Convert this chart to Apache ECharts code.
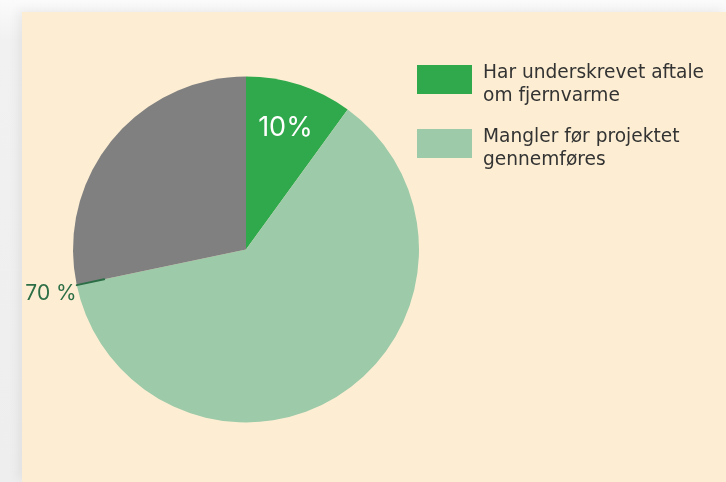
<!DOCTYPE html>
<html>
<head>
<meta charset="utf-8">
<script src="https://cdn.jsdelivr.net/npm/echarts@6/dist/echarts.min.js"></script>
<style>
  html, body { margin: 0; padding: 0; width: 726px; height: 482px; overflow: hidden;
    background: linear-gradient(180deg, #fbfbfb 0px, #f1f1f1 40px, #eeeeee 100%); }
  #panel { position: absolute; left: 22px; top: 12px; width: 704px; height: 470px;
    background: #fdeed3; box-shadow: -4px -2px 10px rgba(0,0,0,0.06); }
  #chart { position: absolute; left: 0; top: 0; width: 726px; height: 482px; }
</style>
</head>
<body>
<div id="panel"></div>
<div id="chart"></div>
<script>
// ---- data ----
const categories = ['Har underskrevet aftale\nom fjernvarme', 'Mangler før projektet\ngennemføres', 'Øvrige'];
const values = [10, 61.7, 28.3];
const colors = ['#2fa94b', '#9dcaa9', '#808080'];
const sliceLabels = ['10%', '', ''];
const boundaryLabel = '70 %';
const legendNames = [categories[0], categories[1]];

const chart = echarts.init(document.getElementById('chart'), null, { renderer: 'canvas' });
const NUMFONT = 'Inter, "Noto Sans", sans-serif';
const LEGFONT = '"DejaVu Sans", sans-serif';
const center = [246, 249.5];
const R = 173;

const mainData = categories.map((c, i) => ({ name: c, value: values[i], itemStyle: { color: colors[i] } }));

const labelData = categories.map((c, i) => ({
  name: c, value: values[i],
  itemStyle: { color: 'rgba(0,0,0,0)' },
  label: sliceLabels[i] ? { show: true, formatter: sliceLabels[i] } : { show: false }
}));

// boundary marker: zero-size slice between 2nd and 3rd category
const boundaryData = [
  { name: categories[0], value: values[0], itemStyle: { color: 'rgba(0,0,0,0)' }, label: { show: false } },
  { name: categories[1], value: values[1], itemStyle: { color: 'rgba(0,0,0,0)' }, label: { show: false } },
  { name: 'grænse', value: 0, itemStyle: { color: 'rgba(0,0,0,0)', borderColor: '#2c6e46', borderWidth: 2 },
    label: { show: true, formatter: '{s| }\n{t|' + boundaryLabel + '}' } },
  { name: categories[2], value: values[2], itemStyle: { color: 'rgba(0,0,0,0)' }, label: { show: false } }
];

chart.setOption({
  animation: false,
  backgroundColor: 'transparent',
  legend: {
    data: legendNames,
    orient: 'vertical',
    left: 417,
    top: 55,
    padding: 0,
    itemWidth: 55,
    itemHeight: 29,
    itemGap: 13,
    icon: 'rect',
    selectedMode: false,
    formatter: function (name) {
      return '{s| }\n' + name.split('\n').map(function (l) { return '{t|' + l + '}'; }).join('\n');
    },
    textStyle: {
      fontFamily: LEGFONT, fontSize: 18.6, color: '#333333', padding: [0, 0, 0, 6],
      rich: {
        s: { fontSize: 2, lineHeight: 10.5 },
        t: { fontFamily: LEGFONT, fontSize: 18.6, lineHeight: 23.5, color: '#333333' }
      }
    }
  },
  series: [
    {
      type: 'pie', center: center, radius: R, startAngle: 90, clockwise: true,
      silent: true, label: { show: false }, labelLine: { show: false },
      emphasis: { disabled: true },
      data: mainData
    },
    {
      type: 'pie', center: center, radius: [76, R], startAngle: 90, clockwise: true,
      silent: true, emphasis: { disabled: true },
      label: { position: 'inside', color: '#ffffff', fontFamily: NUMFONT, fontSize: 27 },
      labelLine: { show: false },
      data: labelData
    },
    {
      type: 'pie', center: center, radius: [145, R], startAngle: 90, clockwise: true,
      silent: true, emphasis: { disabled: true },
      label: {
        position: 'outside', color: '#2c6e46', fontFamily: NUMFONT, fontSize: 21,
        distanceToLabelLine: 0,
        rich: {
          s: { fontSize: 2, lineHeight: 18 },
          t: { fontFamily: NUMFONT, fontSize: 21, lineHeight: 24, color: '#2c6e46' }
        }
      },
      labelLine: { show: false, length: 0, length2: 0 },
      data: boundaryData
    }
  ]
});
</script>
</body>
</html>
